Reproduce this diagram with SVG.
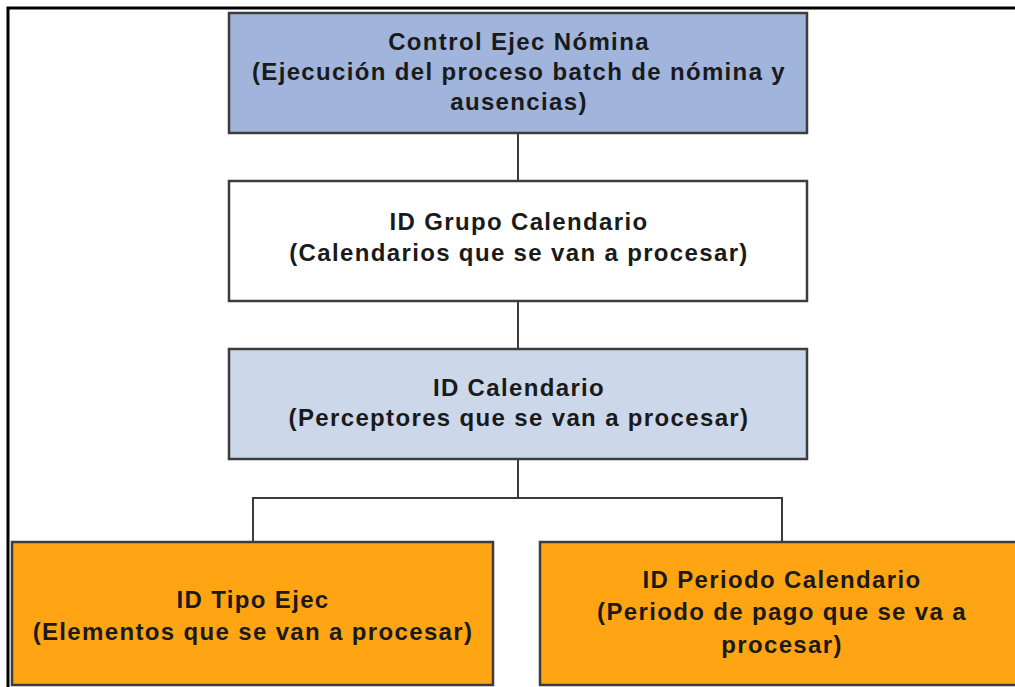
<svg xmlns="http://www.w3.org/2000/svg" width="1015" height="687" viewBox="0 0 1015 687">
<style>
.box{stroke:#3c3c3c;stroke-width:2.5}
.t{font-family:"Liberation Sans",Arial,sans-serif;font-weight:bold;font-size:24px;letter-spacing:1.35px;fill:#1a1a1a;text-anchor:middle}
.c{fill:none;stroke:#3c3c3c;stroke-width:2}
</style>
<rect width="1015" height="687" fill="#fff"/>
<path d="M8 687 V8 H1015" fill="none" stroke="#000" stroke-width="3"/>
<g id="connectors">
<path class="c" d="M518 133 V181"/>
<path class="c" d="M518 301 V349"/>
<path class="c" d="M518 459 V498 M253 542 V498 H782 V542"/>
</g>
<g id="n1">
<rect class="box" x="229" y="13" width="578" height="120" fill="#a0b4dc"/>
<text class="t" x="519" y="50">Control Ejec Nómina</text>
<text class="t" x="519" y="80">(Ejecución del proceso batch de nómina y</text>
<text class="t" x="519" y="110">ausencias)</text>
</g>
<g id="n2">
<rect class="box" x="229" y="181" width="578" height="120" fill="#fff"/>
<text class="t" x="519" y="230">ID Grupo Calendario</text>
<text class="t" x="519" y="261">(Calendarios que se van a procesar)</text>
</g>
<g id="n3">
<rect class="box" x="229" y="349" width="578" height="110" fill="#ccd8ea"/>
<text class="t" x="519" y="396">ID Calendario</text>
<text class="t" x="519" y="426">(Perceptores que se van a procesar)</text>
</g>
<g id="n4">
<rect class="box" x="12" y="542" width="481" height="143" fill="#ffa514"/>
<text class="t" x="253" y="608">ID Tipo Ejec</text>
<text class="t" x="253" y="640">(Elementos que se van a procesar)</text>
</g>
<g id="n5">
<rect class="box" x="540" y="542" width="480" height="143" fill="#ffa514"/>
<text class="t" x="782" y="588">ID Periodo Calendario</text>
<text class="t" x="782" y="620">(Periodo de pago que se va a</text>
<text class="t" x="782" y="653">procesar)</text>
</g>
</svg>
